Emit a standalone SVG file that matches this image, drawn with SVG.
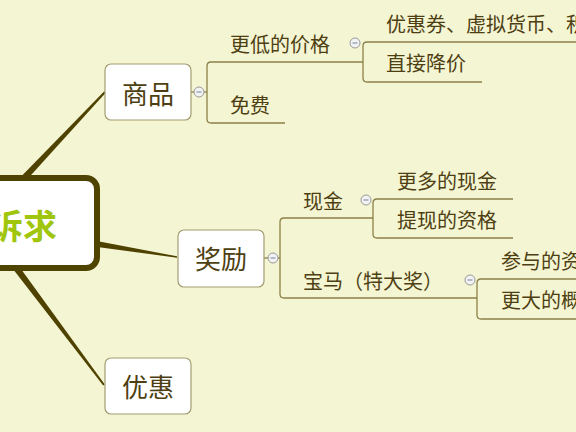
<svg xmlns="http://www.w3.org/2000/svg" width="576" height="432" viewBox="0 0 576 432">
<style>
.t{font-family:"Noto Sans CJK SC","Noto Sans",sans-serif;fill:#4e3f12}
.l1{font-size:26px}
.l2{font-size:20px}
.box{fill:#ffffff;stroke:#a39d72;stroke-width:1.2}
.br{fill:none;stroke:#8c8048;stroke-width:1.3}
.main{fill:#4f4200}
.cc{fill:#f2f2f2;stroke:#9a9a9a;stroke-width:1}
.cm{stroke:#8a96b4;stroke-width:1.2}
</style>
<defs>
<g id="collapse"><circle class="cc" r="5"/><line class="cm" x1="-2.5" y1="0" x2="2.5" y2="0"/></g>
</defs>
<rect width="576" height="432" fill="#f4f5d3"/>
<g id="connectors">
<polygon class="main" points="12.5,195.4 105.7,92.7 104.3,91.3 7.5,190.6"/>
<polygon class="main" points="60,234 177,256.3 177,257.7 60,242"/>
<polygon class="main" points="10.8,254.9 104.8,384.4 103.2,385.6 5.2,259.1"/>
<path class="br" d="M191,92 H207"/>
<path class="br" d="M363,62 H211 Q207,62 207,66 V119 Q207,123 211,123 H285"/>
<path class="br" d="M576,42 H367 Q363,42 363,46 V78 Q363,82 367,82 H482"/>
<path class="br" d="M264,258 H280"/>
<path class="br" d="M373,218 H284 Q280,218 280,222 V294 Q280,298 284,298 H477"/>
<path class="br" d="M513,199 H377 Q373,199 373,203 V234 Q373,238 377,238 H513"/>
<path class="br" d="M576,279 H481 Q477,279 477,283 V315 Q477,319 481,319 H576"/>
</g>
<g id="center">
<rect x="-30" y="178" width="127" height="90" rx="11" fill="#ffffff" stroke="#4f4300" stroke-width="6"/>
<text x="57" y="239" text-anchor="end" font-family="'Noto Sans CJK SC','Noto Sans',sans-serif" font-size="34" font-weight="bold" fill="#9fc60c">诉求</text>
</g>
<g id="n-shangpin">
<rect class="box" x="105" y="64" width="86" height="56" rx="6"/>
<text class="t l1" x="148" y="104" text-anchor="middle">商品</text>
<use href="#collapse" x="199" y="92"/>
</g>
<g id="n-jiangli">
<rect class="box" x="178" y="230" width="86" height="57" rx="6"/>
<text class="t l1" x="221" y="269" text-anchor="middle">奖励</text>
<use href="#collapse" x="273" y="258"/>
</g>
<g id="n-youhui">
<rect class="box" x="105" y="358" width="86" height="56" rx="6"/>
<text class="t l1" x="148" y="397" text-anchor="middle">优惠</text>
</g>
<g id="n-gengdi">
<text class="t l2" x="230" y="52">更低的价格</text>
<use href="#collapse" x="355" y="43"/>
</g>
<g id="n-mianfei"><text class="t l2" x="230" y="113">免费</text></g>
<g id="n-youhuiquan"><text class="t l2" x="386" y="32">优惠券、虚拟货币、积分</text></g>
<g id="n-zhijie"><text class="t l2" x="386" y="71">直接降价</text></g>
<g id="n-xianjin">
<text class="t l2" x="303" y="209">现金</text>
<use href="#collapse" x="366" y="200"/>
</g>
<g id="n-gengduo"><text class="t l2" x="397" y="189">更多的现金</text></g>
<g id="n-tixian"><text class="t l2" x="397" y="228">提现的资格</text></g>
<g id="n-baoma">
<text class="t l2" x="303" y="289">宝马（特大奖）</text>
<use href="#collapse" x="470" y="280"/>
</g>
<g id="n-canyu"><text class="t l2" x="501" y="269">参与的资格</text></g>
<g id="n-gengda"><text class="t l2" x="501" y="308">更大的概率</text></g>
</svg>
